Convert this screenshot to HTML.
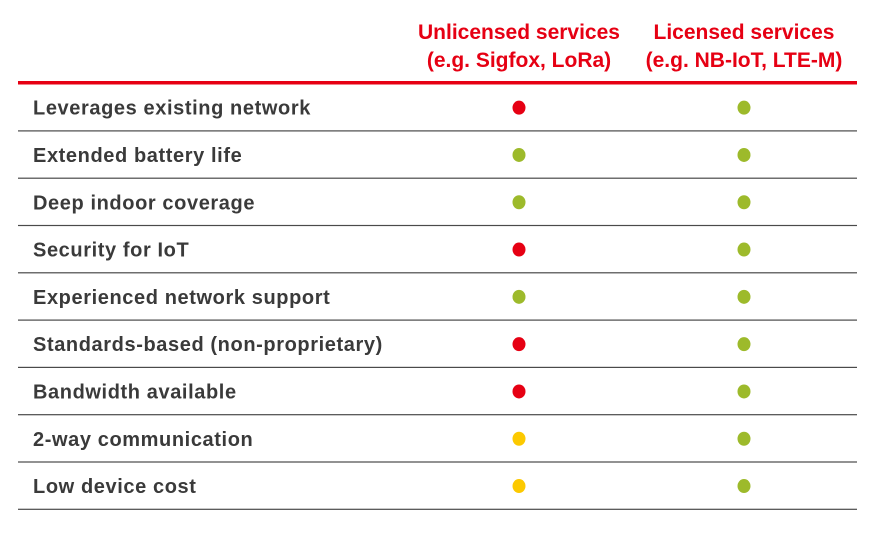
<!DOCTYPE html>
<html><head><meta charset="utf-8"><style>
html,body{margin:0;padding:0;background:#fff;}
svg{display:block;font-family:"Liberation Sans",sans-serif;}
</style></head><body>
<svg id="chart" width="882" height="538" viewBox="0 0 882 538">
<g id="head"></g>
<g id="rows"></g>
</svg>
<script>
const features = ["Leverages existing network","Extended battery life","Deep indoor coverage","Security for IoT","Experienced network support","Standards-based (non-proprietary)","Bandwidth available","2-way communication","Low device cost"];
const unlicensed = ["red","green","green","red","green","red","red","yellow","yellow"];
const licensed = ["green","green","green","green","green","green","green","green","green"];
const headers = [["Unlicensed services","(e.g. Sigfox, LoRa)"],["Licensed services","(e.g. NB-IoT, LTE-M)"]];
const colorMap = {red:"#e60013", green:"#9dba2b", yellow:"#fcc900"};
const NS = "http://www.w3.org/2000/svg";
const colX = [519, 744];
const top0 = 84, rowH = 47.3;
const rowY = i => top0 + rowH * i;
function mk(tag, attrs, parent){const e=document.createElementNS(NS,tag);for(const k in attrs)e.setAttribute(k,attrs[k]);parent.appendChild(e);return e;}
const head = document.getElementById('head');
headers.forEach((h,c)=>{
  h.forEach((line,l)=>{
    const t = mk('text',{x:colX[c],y:39+l*28,'text-anchor':'middle','font-size':21,'font-weight':'bold',fill:'#e60013'},head);
    
    
    t.textContent = line;
  });
});
const rl = mk('rect',{x:18,y:81,width:839,height:3.5,fill:'#e60013'},head);


const rows = document.getElementById('rows');
features.forEach((f,i)=>{
  const g = mk('g',{},rows);
  
  
  const cy = rowY(i) + rowH/2;
  const t = mk('text',{x:33,y:cy+7,'font-size':20,'letter-spacing':0.6,'font-weight':'bold',fill:'#3a3a3a'},g);
  
  
  t.textContent = f;
  const d1 = mk('ellipse',{cx:colX[0],cy:cy,rx:6.5,ry:7,fill:colorMap[unlicensed[i]]},g);
  
  
  const d2 = mk('ellipse',{cx:colX[1],cy:cy,rx:6.5,ry:7,fill:colorMap[licensed[i]]},g);
  
  
  const ln = mk('rect',{x:18,y:rowY(i+1)-1,width:839,height:1.2,fill:'#4a4a4a'},g);
  
  
});
</script>
</body></html>
